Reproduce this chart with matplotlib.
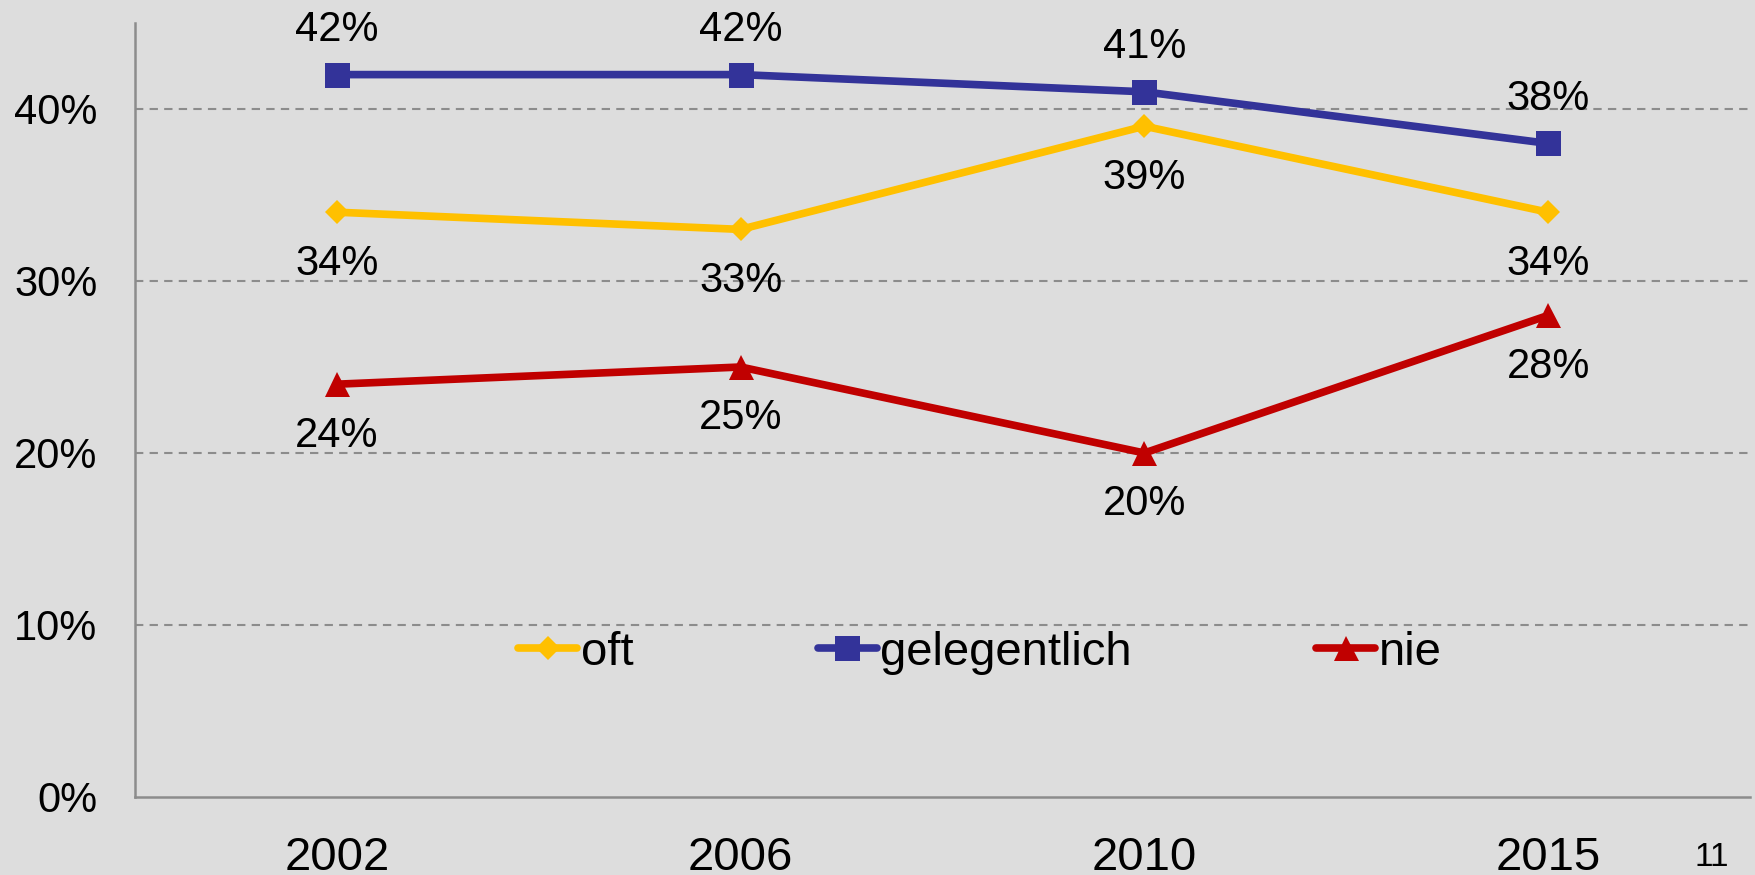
import matplotlib
matplotlib.use('Agg')
import matplotlib.pyplot as plt
import numpy as np

plt.rcParams['font.family'] = ['Liberation Sans', 'DejaVu Sans']

# data
years = ['2002', '2006', '2010', '2015']
oft = [34, 33, 39, 34]
gelegentlich = [42, 42, 41, 38]
nie = [24, 25, 20, 28]

series = [
    ('oft', oft, '#FFC000', 'D', 12.7, -37),
    ('gelegentlich', gelegentlich, '#333399', 's', 18, 32),
    ('nie', nie, '#C00000', '^', 18, -37),
]

bg = '#dddddd'
fig = plt.figure(figsize=(17.56, 8.75), dpi=100, facecolor=bg)
ax = fig.add_axes([135 / 1756, 1 - 797 / 875, (1750 - 135) / 1756, (797 - 23) / 875])
ax.set_facecolor(bg)

x = np.arange(len(years))
handles = []
for name, vals, col, mk, ms, off in series:
    h, = ax.plot(x, vals, color=col, lw=5.5, marker=mk, markersize=ms,
                 markeredgewidth=0, label=name, solid_capstyle='round')
    handles.append(h)
    for xi, v in zip(x, vals):
        ax.annotate('%d%%' % v, (xi, v), xytext=(0, off), textcoords='offset points',
                    ha='center', va='center', fontsize=30, color='black')

ax.set_xlim(-0.5, 3.5)
ax.set_ylim(0, 45)
ax.set_yticks([0, 10, 20, 30, 40])
ax.set_yticklabels(['0%', '10%', '20%', '30%', '40%'])
ax.set_xticks(x)
ax.set_xticklabels(years)
ax.tick_params(axis='y', length=0, pad=27, labelsize=30)
ax.tick_params(axis='x', length=0, pad=28, labelsize=34)

for yv in [10, 20, 30, 40]:
    ax.axhline(yv, color='#8c8c8c', lw=1.5, ls=(0, (4, 3)), zorder=0)

for s in ['top', 'right']:
    ax.spines[s].set_visible(False)
for s in ['left', 'bottom']:
    ax.spines[s].set_color('#8c8c8c')
    ax.spines[s].set_linewidth(1.8)

fig.legend(handles=handles, loc='center left', bbox_to_anchor=(518 / 1756, 1 - 653 / 875),
           ncol=3, frameon=False, fontsize=34, handlelength=1.25, handletextpad=0.08,
           columnspacing=3.9, borderpad=0, borderaxespad=0)

fig.text(1712 / 1756, 1 - 858 / 875, '11', fontsize=24, ha='center', va='center')

fig.savefig('out.png', dpi=100, facecolor=bg)
